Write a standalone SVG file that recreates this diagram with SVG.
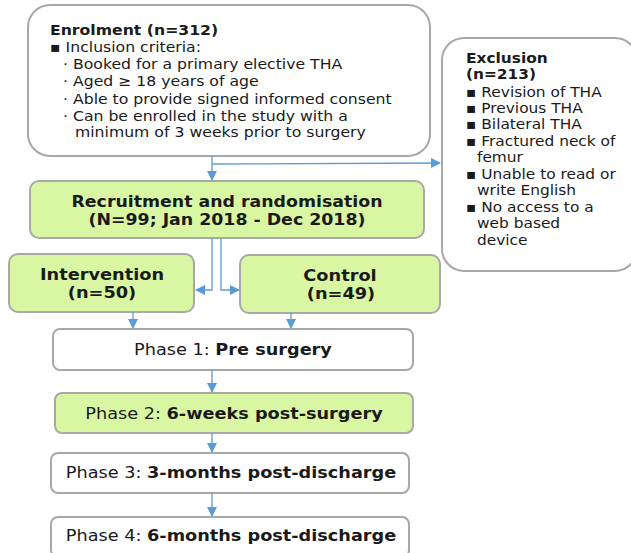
<svg xmlns="http://www.w3.org/2000/svg" width="631" height="553" viewBox="0 0 631 553">
<defs>
<marker id="ah" viewBox="0 0 10 10" refX="9" refY="5" markerWidth="10" markerHeight="10" markerUnits="userSpaceOnUse" orient="auto">
<path d="M0,0 L10,5 L0,10 Z" fill="#5b9bd5"/>
</marker>
<style>
.box{fill:#fff;stroke:#a8a8a8;stroke-width:2}
.g{fill:#d9f6a2;stroke:#a8a8a8;stroke-width:2}
text{font-family:"DejaVu Sans",Verdana,sans-serif;font-size:14px;fill:#1a1a1a;transform-box:fill-box;transform-origin:left center;transform:scaleX(1.12)}
.x{transform:scaleX(1.1)}
.b{font-weight:bold}
.c{text-anchor:middle;transform-origin:center}
.r{font-size:15.5px}
.i{font-size:15.5px;transform:scaleX(1.145)}
.p{font-size:16px;transform:scaleX(1.105)}
.ln{fill:none;stroke:#5b9bd5;stroke-width:1.3}
</style>
</defs>
<rect width="631" height="553" fill="#fff"/>
<g id="enrolment">
<rect class="box" x="28" y="5" width="402" height="151" rx="22"/>
<text class="b" x="50" y="35">Enrolment (n=312)</text>
<text x="50" y="52">▪ Inclusion criteria:</text>
<text x="63" y="69">· Booked for a primary elective THA</text>
<text x="63" y="86">· Aged ≥ 18 years of age</text>
<text x="63" y="104">· Able to provide signed informed consent</text>
<text x="63" y="121">· Can be enrolled in the study with a</text>
<text x="75" y="137">minimum of 3 weeks prior to surgery</text>
</g>
<g id="exclusion">
<rect class="box" x="442" y="38" width="195" height="233" rx="22"/>
<text class="b x" x="466" y="63">Exclusion</text>
<text class="b x" x="466" y="79">(n=213)</text>
<text class="x" x="466" y="97">▪ Revision of THA</text>
<text class="x" x="466" y="113">▪ Previous THA</text>
<text class="x" x="466" y="129">▪ Bilateral THA</text>
<text class="x" x="466" y="146">▪ Fractured neck of</text>
<text class="x" x="477" y="162">femur</text>
<text class="x" x="466" y="179">▪ Unable to read or</text>
<text class="x" x="477" y="195">write English</text>
<text class="x" x="466" y="212">▪ No access to a</text>
<text class="x" x="477" y="228">web based</text>
<text class="x" x="477" y="245">device</text>
</g>
<g id="recruitment">
<rect class="g" x="30" y="181" width="394" height="57" rx="9"/>
<text class="b c r" x="227" y="207">Recruitment and randomisation</text>
<text class="b c r" x="227" y="225">(N=99; Jan 2018 - Dec 2018)</text>
</g>
<g id="intervention">
<rect class="g" x="9" y="254" width="185" height="58" rx="9"/>
<text class="b c i" x="102" y="280">Intervention</text>
<text class="b c i" x="102" y="298">(n=50)</text>
</g>
<g id="control">
<rect class="g" x="240" y="255" width="200" height="58" rx="9"/>
<text class="b c i" x="340" y="281">Control</text>
<text class="b c i" x="341" y="299">(n=49)</text>
</g>
<g id="phase1">
<rect class="box" x="53" y="329" width="360" height="41" rx="7"/>
<text class="c p" x="233" y="355">Phase 1: <tspan class="b">Pre surgery</tspan></text>
</g>
<g id="phase2">
<rect class="g" x="55" y="393" width="358" height="40" rx="7"/>
<text class="c p" x="234" y="419">Phase 2: <tspan class="b">6-weeks post-surgery</tspan></text>
</g>
<g id="phase3">
<rect class="box" x="51" y="453" width="358" height="40" rx="7"/>
<text class="c p" x="231" y="478">Phase 3: <tspan class="b">3-months post-discharge</tspan></text>
</g>
<g id="phase4">
<rect class="box" x="51" y="517" width="358" height="40" rx="7"/>
<text class="c p" x="231" y="541">Phase 4: <tspan class="b">6-months post-discharge</tspan></text>
</g>
<g id="connectors">
<path class="ln" d="M212,156 V180" marker-end="url(#ah)"/>
<path class="ln" d="M212,164 L440,163" marker-end="url(#ah)"/>
<path class="ln" d="M212,238 V290 H196" marker-end="url(#ah)"/>
<path class="ln" d="M221,238 V290 H239" marker-end="url(#ah)"/>
<path class="ln" d="M133,312 V328" marker-end="url(#ah)"/>
<path class="ln" d="M291,313 V328" marker-end="url(#ah)"/>
<path class="ln" d="M212,370 V392" marker-end="url(#ah)"/>
<path class="ln" d="M212,433 V452" marker-end="url(#ah)"/>
<path class="ln" d="M212,493 V516" marker-end="url(#ah)"/>
</g>
</svg>
